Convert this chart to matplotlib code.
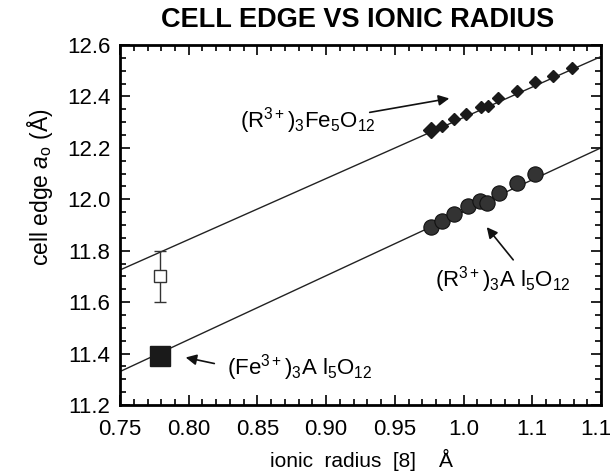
""" Cell edge vs ionic radius (garnets) """

import matplotlib
matplotlib.use("Agg")
import matplotlib.pyplot as plt
import matplotlib.transforms as mtrans
from matplotlib.ticker import MultipleLocator

plt.rcParams['font.family'] = ['Liberation Sans', 'DejaVu Sans']
plt.rcParams['mathtext.fontset'] = 'custom'
plt.rcParams['mathtext.rm'] = 'Liberation Sans'
plt.rcParams['mathtext.it'] = 'Liberation Sans:italic'

# (R3+)3Fe5O12 garnets
fe_radius = [0.976, 0.984, 0.993, 1.002, 1.013, 1.018, 1.025, 1.039, 1.052, 1.065, 1.079]
fe_edge = [12.27, 12.286, 12.311, 12.330, 12.360, 12.363, 12.393, 12.422, 12.455, 12.480, 12.512]

# (R3+)3Al5O12 garnets
al_radius = [0.976, 0.984, 0.993, 1.003, 1.012, 1.017, 1.026, 1.039, 1.052]
al_edge = [11.893, 11.916, 11.942, 11.973, 11.994, 11.986, 12.025, 12.062, 12.098]

# Fe3+ points
fe3_radius = 0.779
fe3_al_edge = 11.39
fe3_open_edge = 11.70
fe3_open_err = 0.10

# fitted lines (end points read at the axes edges)
line_x = [0.75, 1.10]
fe_line = [11.725, 12.555]
al_line = [11.33, 12.20]

xtick_vals = [0.75, 0.80, 0.85, 0.90, 0.95, 1.00, 1.05, 1.10]
xtick_labels = ['0.75', '0.80', '0.85', '0.90', '0.95', '1.0', '1.1', '1.1']
ytick_vals = [11.2, 11.4, 11.6, 11.8, 12.0, 12.2, 12.4, 12.6]
ytick_labels = ['11.2', '11.4', '11.6', '11.8', '12.0', '12.2', '12.4', '12.6']

fig = plt.figure(figsize=(6.13, 4.73), dpi=100)
ax = fig.add_axes([0.1958, 0.1438, 0.7846, 0.7611])

ax.plot(line_x, fe_line, color='#222222', lw=1.0)
ax.plot(line_x, al_line, color='#222222', lw=1.0)

ax.plot(fe_radius, fe_edge, 'D', color='#1a1a1a', ms=6, mec='#1a1a1a')
ax.plot(fe_radius[0], fe_edge[0], 'D', color='#1a1a1a', ms=8)
ax.plot(al_radius, al_edge, 'o', color='#333333', ms=11, mec='#111111', mew=0.8)

ax.errorbar(fe3_radius, fe3_open_edge, yerr=fe3_open_err, fmt='s', mfc='white',
            mec='#333333', ms=9, ecolor='#333333', elinewidth=1.0, capsize=4)
ax.plot(fe3_radius, fe3_al_edge, 's', color='#1a1a1a', ms=15)

ax.set_xlim(0.75, 1.10)
ax.set_ylim(11.2, 12.6)
ax.set_xticks(xtick_vals)
ax.set_xticklabels(xtick_labels)
ax.set_yticks(ytick_vals)
ax.set_yticklabels(ytick_labels)
ax.xaxis.set_minor_locator(MultipleLocator(0.01))
ax.yaxis.set_minor_locator(MultipleLocator(0.05))
ax.tick_params(which='both', direction='in', top=True, right=True, labelsize=16, width=1.2)
ax.tick_params(which='major', length=7)
ax.tick_params(which='minor', length=4)
ax.tick_params(axis='x', pad=10)
ax.tick_params(axis='y', pad=7)
for spine in ax.spines.values():
    spine.set_linewidth(2.0)

# last label sits a little inside the figure edge
shift = mtrans.ScaledTranslation(-5 / 100, 0, fig.dpi_scale_trans)
last = ax.get_xticklabels()[-1]
last.set_transform(last.get_transform() + shift)

ax.set_xlabel('ionic  radius  [8]    Å', fontsize=15, va='center')
ax.xaxis.set_label_coords(0.503, -0.153)
ax.set_ylabel(r'cell edge $a_{\mathrm{o}}$ (Å)', fontsize=16.5, va='center')
ax.yaxis.set_label_coords(-0.166, 0.606)
fig.text(0.584, 0.958, 'CELL EDGE VS IONIC RADIUS', ha='center', va='center',
         fontsize=19.5, fontweight='bold')

lab = dict(fontsize=16, ha='left', va='baseline')
arr = dict(arrowstyle='-|>', color='#111111', lw=1.2, mutation_scale=16)
ax.text(0.837, 12.281, r'(R$^{3+}$)$_3$Fe$_5$O$_{12}$', **lab)
ax.annotate('', xy=(0.9916, 12.394), xytext=(0.9297, 12.336), arrowprops=arr)
ax.text(0.979, 11.659, r'(R$^{3+}$)$_3$A l$_5$O$_{12}$', **lab)
ax.annotate('', xy=(1.0156, 11.90), xytext=(1.0374, 11.756), arrowprops=arr)
ax.text(0.828, 11.317, r'(Fe$^{3+}$)$_3$A l$_5$O$_{12}$', **lab)
ax.annotate('', xy=(0.7958, 11.387), xytext=(0.8206, 11.359), arrowprops=arr)

fig.savefig('out.png', dpi=100)
